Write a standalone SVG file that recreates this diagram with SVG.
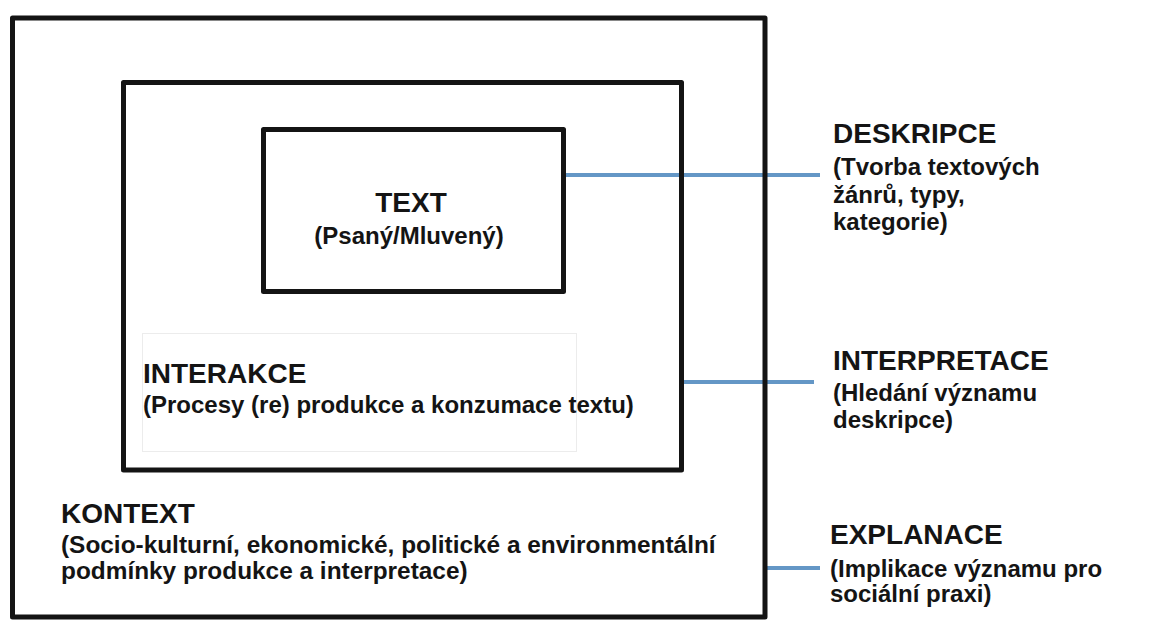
<svg xmlns="http://www.w3.org/2000/svg" width="1160" height="622" viewBox="0 0 1160 622">
  <style>
    .box { fill: none; stroke: #141414; stroke-width: 5; stroke-linejoin: round; }
    .faint { fill: none; stroke: #ececec; stroke-width: 1; }
    .conn { stroke: #6497c6; stroke-width: 4; fill: none; }
    .t { font-family: "Liberation Sans", Arial, Helvetica, sans-serif; font-weight: bold; fill: #141414; }
    .title { font-size: 28px; }
    .sub { font-size: 24px; }
    .subk { font-size: 24.4px; }
  </style>
  <rect width="1160" height="622" fill="#ffffff"/>
  <g id="connectors">
    <line class="conn" x1="566" y1="175" x2="820" y2="175"/>
    <line class="conn" x1="682" y1="382" x2="814" y2="382"/>
    <line class="conn" x1="765" y1="568" x2="820" y2="568"/>
  </g>
  <g id="kontext">
    <rect class="box" x="12.5" y="18" width="752.5" height="599"/>
    <text class="t title" x="61" y="523">KONTEXT</text>
    <text class="t subk" x="61" y="553">(Socio-kulturní, ekonomické, politické a environmentální</text>
    <text class="t subk" x="61" y="579">podmínky produkce a interpretace)</text>
  </g>
  <g id="interakce">
    <rect class="box" x="123.5" y="82.5" width="558" height="387.5"/>
    <rect class="faint" x="142.5" y="333.5" width="434" height="118"/>
    <text class="t title" x="143" y="383">INTERAKCE</text>
    <text class="t sub" x="143" y="413">(Procesy (re) produkce a konzumace textu)</text>
  </g>
  <g id="text">
    <rect class="box" x="263.5" y="129.5" width="300" height="162"/>
    <text class="t title" x="411" y="212" text-anchor="middle">TEXT</text>
    <text class="t sub" x="409" y="244" text-anchor="middle">(Psaný/Mluvený)</text>
  </g>
  <g id="deskripce">
    <text class="t title" x="833" y="143">DESKRIPCE</text>
    <text class="t sub" x="833" y="175">(Tvorba textových</text>
    <text class="t sub" x="833" y="203">žánrů, typy,</text>
    <text class="t sub" x="833" y="230">kategorie)</text>
  </g>
  <g id="interpretace">
    <text class="t title" x="833" y="370">INTERPRETACE</text>
    <text class="t sub" x="833" y="401">(Hledání významu</text>
    <text class="t sub" x="833" y="428">deskripce)</text>
  </g>
  <g id="explanace">
    <text class="t title" x="830" y="544">EXPLANACE</text>
    <text class="t sub" x="830" y="577">(Implikace významu pro</text>
    <text class="t sub" x="830" y="602">sociální praxi)</text>
  </g>
</svg>
